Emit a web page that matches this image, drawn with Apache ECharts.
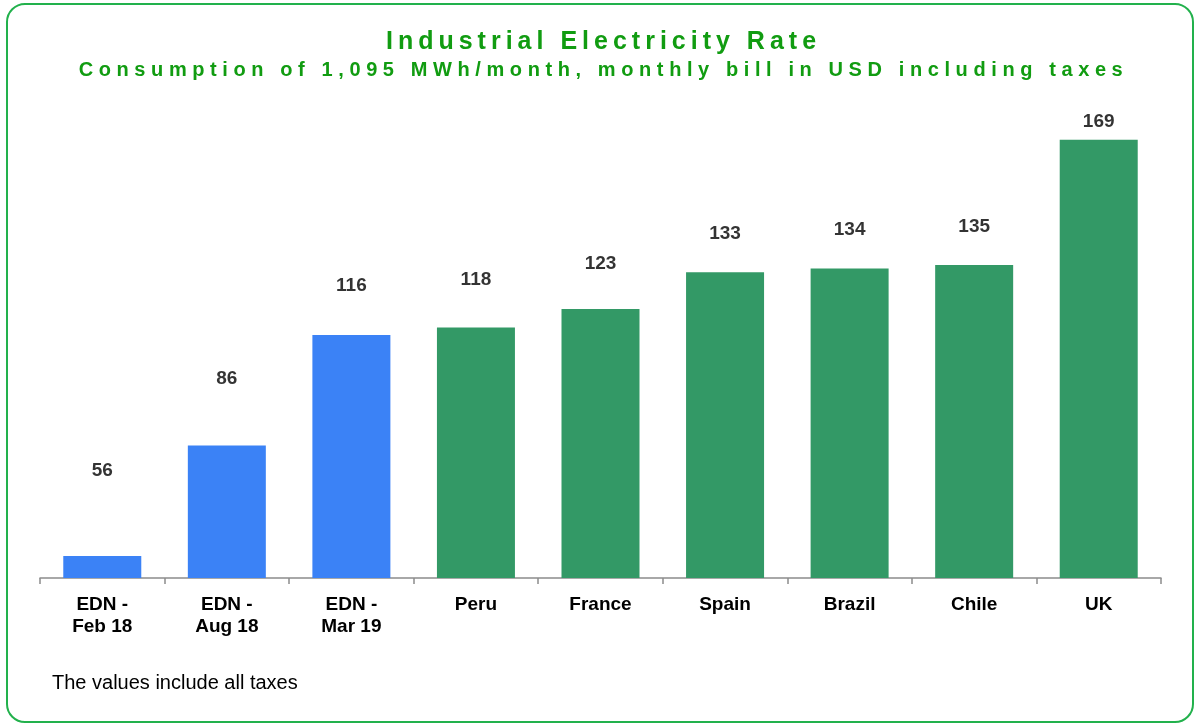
<!DOCTYPE html>
<html>
<head>
<meta charset="utf-8">
<script src="https://cdn.jsdelivr.net/npm/echarts@6/dist/echarts.min.js"></script>
<style>
  html, body { margin: 0; padding: 0; background: #fff; }
  #wrap { position: relative; width: 1197px; height: 723px; }
  #chart { position: absolute; left: 0; top: 0; width: 1197px; height: 723px; }
  .ttl { position: absolute; left: 5px; width: 1197px; text-align: center; color: #119c11;
         font-family: Arial, "Liberation Sans", sans-serif; font-weight: bold; white-space: nowrap; }
  #t1 { top: 25px; font-size: 25px; letter-spacing: 5px; line-height: 30px; }
  #t2 { top: 57px; font-size: 20px; letter-spacing: 5.6px; line-height: 24px; }
</style>
</head>
<body>
<div id="wrap">
  <div id="chart"></div>
  <div id="t1" class="ttl">Industrial Electricity Rate</div>
  <div id="t2" class="ttl">Consumption of 1,095 MWh/month, monthly bill in USD including taxes</div>
</div>
<script>
// Industrial electricity bill by market, EDN history (blue) vs other countries (green)
const categories = ["EDN -\nFeb 18", "EDN -\nAug 18", "EDN -\nMar 19", "Peru", "France", "Spain", "Brazil", "Chile", "UK"];
const values = [56, 86, 116, 118, 123, 133, 134, 135, 169];
const isEdn = [true, true, true, false, false, false, false, false, false];

const BLUE = "#3b82f6", GREEN = "#339966";

const chart = echarts.init(document.getElementById("chart"));
chart.setOption({
  animation: false,
  backgroundColor: "#fff",
  grid: { left: 40, right: 36, top: 136, bottom: 145 },
  xAxis: {
    type: "category", data: categories,
    axisLine: { lineStyle: { color: "#8c8c8c", width: 1.5 } },
    axisTick: { show: true, length: 6, lineStyle: { color: "#8c8c8c", width: 1.5 } },
    axisLabel: { color: "#000", fontFamily: "Arial", fontWeight: "bold", fontSize: 19,
      lineHeight: 22, margin: 16, interval: 0 },
  },
  yAxis: [
    { type: "value", min: 50, max: 170, show: false },
    // value labels in the source float above the bars on their own scale
    { type: "value", min: 21.4, max: 164.5, show: false },
  ],
  series: [
    {
      type: "bar", yAxisIndex: 0, barWidth: 78,
      data: values.map((v, i) => ({ value: v, itemStyle: { color: isEdn[i] ? BLUE : GREEN } })),
    },
    {
      type: "scatter", yAxisIndex: 1, symbolSize: 0, clip: false, silent: true,
      data: values,
      label: { show: true, position: "inside", color: "#000", fontFamily: "Arial",
        fontWeight: "bold", fontSize: 19, textBorderWidth: 0 },
    },
  ],
  graphic: [
    { type: "rect", shape: { x: 7, y: 4, width: 1186, height: 718, r: 18 },
      style: { fill: "none", stroke: "#22b14c", lineWidth: 2 }, silent: true },
    { type: "text", left: 52, top: 673,
      style: { text: "The values include all taxes", fill: "#000", font: "20px Arial" } },
  ],
});
</script>
</body>
</html>
